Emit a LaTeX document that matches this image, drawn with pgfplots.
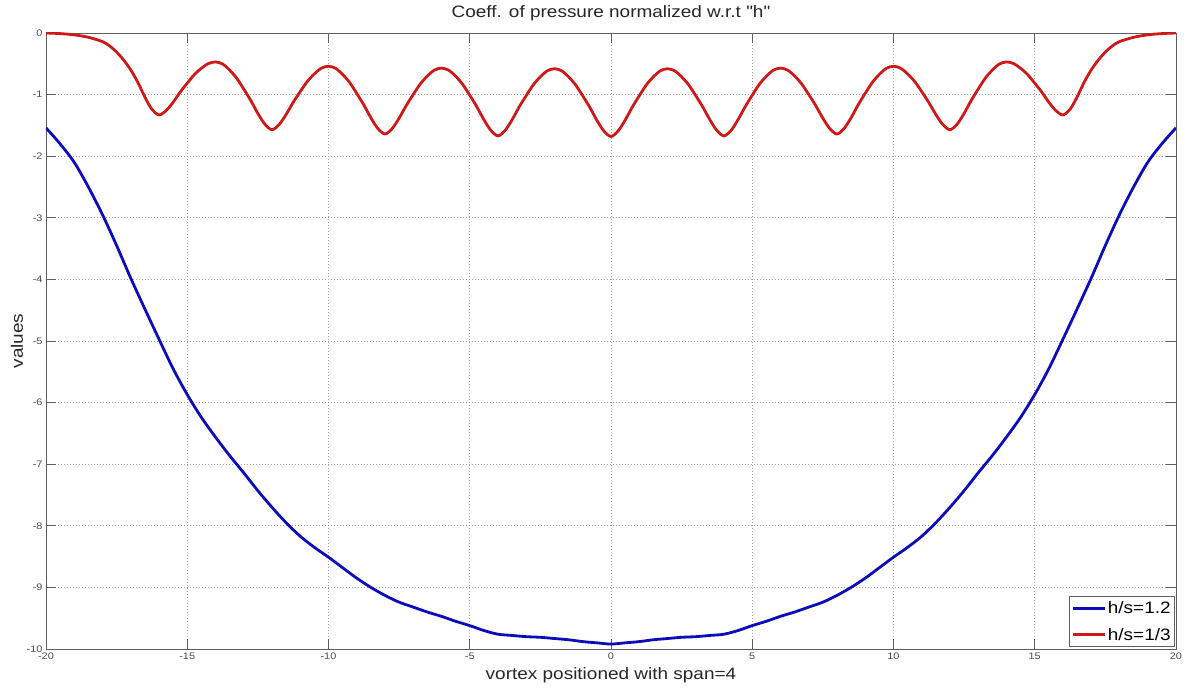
\documentclass[border=0pt]{standalone}
\usepackage{fontspec}
\setmainfont{Liberation Sans}[FakeStretch=1.15]
\newfontfamily\qfont{Liberation Sans}[FakeStretch=1.15, Ligatures=TeXOff]
\usepackage{pgfplots}
\pgfplotsset{compat=1.18}
\definecolor{mblue}{RGB}{12,12,185}
\definecolor{mred}{RGB}{205,25,25}
\definecolor{axgray}{RGB}{95,95,95}
\begin{document}
\begin{tikzpicture}
\begin{axis}[
  at={(0pt,0pt)}, anchor=south west,
  width=1130pt, height=616pt, scale only axis,
  xmin=-20, xmax=20, ymin=-10, ymax=0,
  xtick={-20,-15,...,20}, ytick={-10,-9,...,0},
  grid=major,
  major grid style={gray!75, line width=0.6pt, dash pattern=on 1pt off 2pt},
  axis line style={axgray, line width=0.9pt},
  tick style={axgray, line width=0.9pt},
  tick align=inside, major tick length=10pt,
  /pgf/number format/assume math mode=true,
  tick label style={font=\fontsize{9.5}{10}\selectfont, text=black!70},
  legend style={at={(axis description cs:1,0)}, anchor=south east, xshift=-1pt, yshift=2pt,
     draw=axgray, line width=0.6pt, font=\fontsize{16.5}{18}\selectfont,
     inner xsep=3pt, inner ysep=5pt, row sep=13pt,
     nodes={inner xsep=1pt, inner ysep=0pt}},
  legend cell align=left,
  legend image code/.code={\draw[#1, line width=3pt] (0pt,0pt) -- (32pt,0pt);},
]
\addplot[mblue, line width=2.8pt, smooth] coordinates {
(-20,-1.54) (-19.5,-1.8) (-19,-2.1) (-18.5,-2.5) (-18,-2.95) (-17.5,-3.45) (-17,-3.98)
(-16.5,-4.48) (-16,-4.97) (-15.5,-5.45) (-15,-5.87) (-14.5,-6.24) (-14,-6.56) (-13.5,-6.86)
(-13,-7.14) (-12.5,-7.43) (-12,-7.7) (-11.5,-7.95) (-11,-8.17) (-10.5,-8.35) (-10,-8.51)
(-9.5,-8.68) (-9,-8.85) (-8.5,-9.0) (-8,-9.13) (-7.5,-9.24) (-7,-9.32) (-6.5,-9.4) (-6,-9.47)
(-5.5,-9.55) (-5,-9.62) (-4.5,-9.7) (-4,-9.76) (-3.5,-9.78) (-3,-9.8) (-2.5,-9.81) (-2,-9.83)
(-1.5,-9.85) (-1,-9.88) (-0.5,-9.9) (0,-9.92)
(0.5,-9.9) (1,-9.88) (1.5,-9.85) (2,-9.83) (2.5,-9.81) (3,-9.8) (3.5,-9.78) (4,-9.76)
(4.5,-9.7) (5,-9.62) (5.5,-9.55) (6,-9.47) (6.5,-9.4) (7,-9.32) (7.5,-9.24) (8,-9.13)
(8.5,-9.0) (9,-8.85) (9.5,-8.68) (10,-8.51) (10.5,-8.35) (11,-8.17) (11.5,-7.95) (12,-7.7)
(12.5,-7.43) (13,-7.14) (13.5,-6.86) (14,-6.56) (14.5,-6.24) (15,-5.87) (15.5,-5.45)
(16,-4.97) (16.5,-4.48) (17,-3.98) (17.5,-3.45) (18,-2.95) (18.5,-2.5) (19,-2.1)
(19.5,-1.8) (20,-1.54)
};
\addlegendentry{h/s=1.2}
\addplot[mred, line width=2.8pt, smooth] coordinates {
(-20,0) (-19.5,-0.01) (-19,-0.03) (-18.5,-0.07) (-18,-0.14) (-17.75,-0.21) (-17.5,-0.31)
(-17.25,-0.44) (-17,-0.6) (-16.75,-0.8) (-16.5,-1.04) (-16.25,-1.24) (-16,-1.33)
(-15.75,-1.261) (-15.5,-1.124) (-15.25,-0.96) (-15,-0.814) (-14.75,-0.676) (-14.5,-0.573) (-14.25,-0.496) (-14,-0.47)
(-13.75,-0.503) (-13.5,-0.602) (-13.25,-0.734) (-13,-0.91) (-12.75,-1.097) (-12.5,-1.306) (-12.25,-1.482) (-12,-1.57)
(-11.75,-1.488) (-11.5,-1.323) (-11.25,-1.127) (-11,-0.952) (-10.75,-0.787) (-10.5,-0.664) (-10.25,-0.571) (-10,-0.54)
(-9.75,-0.573) (-9.5,-0.672) (-9.25,-0.804) (-9,-0.98) (-8.75,-1.167) (-8.5,-1.376) (-8.25,-1.552) (-8,-1.64)
(-7.75,-1.554) (-7.5,-1.383) (-7.25,-1.18) (-7,-0.998) (-6.75,-0.827) (-6.5,-0.698) (-6.25,-0.602) (-6,-0.57)
(-5.75,-0.603) (-5.5,-0.702) (-5.25,-0.834) (-5,-1.01) (-4.75,-1.197) (-4.5,-1.406) (-4.25,-1.582) (-4,-1.67)
(-3.75,-1.583) (-3.5,-1.408) (-3.25,-1.201) (-3,-1.016) (-2.75,-0.842) (-2.5,-0.711) (-2.25,-0.613) (-2,-0.58)
(-1.75,-0.613) (-1.5,-0.712) (-1.25,-0.844) (-1,-1.02) (-0.75,-1.207) (-0.5,-1.416) (-0.25,-1.592) (0,-1.68)
(0.25,-1.592) (0.5,-1.416) (0.75,-1.207) (1,-1.02) (1.25,-0.844) (1.5,-0.712) (1.75,-0.613) (2,-0.58)
(2.25,-0.613) (2.5,-0.711) (2.75,-0.842) (3,-1.016) (3.25,-1.201) (3.5,-1.408) (3.75,-1.583) (4,-1.67)
(4.25,-1.582) (4.5,-1.406) (4.75,-1.197) (5,-1.01) (5.25,-0.834) (5.5,-0.702) (5.75,-0.603) (6,-0.57)
(6.25,-0.602) (6.5,-0.698) (6.75,-0.827) (7,-0.998) (7.25,-1.18) (7.5,-1.383) (7.75,-1.554) (8,-1.64)
(8.25,-1.552) (8.5,-1.376) (8.75,-1.167) (9,-0.98) (9.25,-0.804) (9.5,-0.672) (9.75,-0.573) (10,-0.54)
(10.25,-0.571) (10.5,-0.664) (10.75,-0.787) (11,-0.952) (11.25,-1.127) (11.5,-1.323) (11.75,-1.488) (12,-1.57)
(12.25,-1.482) (12.5,-1.306) (12.75,-1.097) (13,-0.91) (13.25,-0.734) (13.5,-0.602) (13.75,-0.503) (14,-0.47)
(14.25,-0.496) (14.5,-0.573) (14.75,-0.676) (15,-0.814) (15.25,-0.96) (15.5,-1.124) (15.75,-1.261) (16,-1.33)
(16.25,-1.24) (16.5,-1.04) (16.75,-0.8) (17,-0.6) (17.25,-0.44) (17.5,-0.31) (17.75,-0.21) (18,-0.14)
(18.5,-0.07) (19,-0.03) (19.5,-0.01) (20,0)
};
\addlegendentry{h/s=1/3}
\end{axis}
\node[font=\fontsize{16.5}{18}\selectfont, text=black!85, anchor=base] at (565pt,631pt) {Coeff. of pressure normalized w.r.t {\qfont"h"}};
\node[font=\fontsize{16.5}{18}\selectfont, text=black!85, anchor=base] at (565pt,-31pt) {vortex positioned with span=4};
\node[font=\fontsize{16.5}{18}\selectfont, text=black!85, anchor=base, rotate=90] at (-23pt,308pt) {values};
\pgfresetboundingbox
\useasboundingbox (-46pt,-41pt) rectangle (1140pt,649pt);
\end{tikzpicture}
\end{document}
